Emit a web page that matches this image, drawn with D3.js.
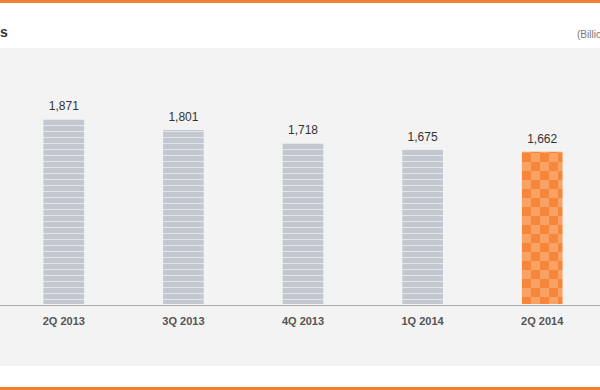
<!DOCTYPE html>
<html>
<head>
<meta charset="utf-8">
<script src="https://cdn.jsdelivr.net/npm/d3@7"></script>
<style>
  body { margin: 0; padding: 0; overflow: hidden; background: #fff; }
  svg { display: block; }
</style>
</head>
<body>
<script>
// data
const quarters = ['2Q 2013', '3Q 2013', '4Q 2013', '1Q 2014', '2Q 2014'];
const values = [1871, 1801, 1718, 1675, 1662];
const highlight = '2Q 2014';

const width = 600;
const height = 390;

const svg = d3.select('body').append('svg')
    .attr('width', width)
    .attr('height', height);

// patterns for the bars
const defs = svg.append('defs');

const stripes = defs.append('pattern')
    .attr('id', 'stripes')
    .attr('patternUnits', 'userSpaceOnUse')
    .attr('width', 6)
    .attr('height', 6);
stripes.append('rect').attr('width', 6).attr('height', 6).attr('fill', '#c3c7cf');
stripes.append('rect').attr('y', 5).attr('width', 6).attr('height', 1).attr('fill', '#e3e5e9');

const checks = defs.append('pattern')
    .attr('id', 'checks')
    .attr('patternUnits', 'userSpaceOnUse')
    .attr('width', 18)
    .attr('height', 18);
checks.append('rect').attr('width', 18).attr('height', 18).attr('fill', '#f6873a');
checks.append('rect').attr('width', 9).attr('height', 9).attr('fill', '#f9a263');
checks.append('rect').attr('x', 9).attr('y', 9).attr('width', 9).attr('height', 9).attr('fill', '#f9a263');

// frame: orange rules, grey panel
svg.append('rect').attr('x', 0).attr('y', 0).attr('width', width).attr('height', 3).attr('fill', '#f07f32');
svg.append('rect').attr('x', 0).attr('y', 48).attr('width', width).attr('height', 318).attr('fill', '#f3f3f3');
svg.append('rect').attr('x', 0).attr('y', 387).attr('width', width).attr('height', 3).attr('fill', '#f07f32');

// header texts (cut off at the window edges, as in the source)
svg.append('text')
    .attr('x', 0)
    .attr('y', 37)
    .attr('font-family', 'Liberation Sans, Arial, sans-serif')
    .attr('font-size', 14)
    .attr('font-weight', 'bold')
    .attr('fill', '#333')
    .text('s');

svg.append('text')
    .attr('x', 577)
    .attr('y', 38)
    .attr('font-family', 'Liberation Sans, Arial, sans-serif')
    .attr('font-size', 10)
    .attr('fill', '#777')
    .text('(Billion Won)');

// scales
const x = d3.scaleBand()
    .domain(quarters)
    .range([4, 602])
    .paddingInner(0.66)
    .paddingOuter(0.33);

const y = d3.scaleLinear()
    .domain([690, 1871])
    .range([304, 119]);

const data = quarters.map((q, i) => ({ q, v: values[i] }));

// bars
svg.append('g')
    .selectAll('rect')
    .data(data)
    .enter()
    .append('rect')
    .attr('x', d => x(d.q))
    .attr('y', d => y(d.v))
    .attr('width', x.bandwidth())
    .attr('height', d => y.range()[0] - y(d.v))
    .attr('fill', d => d.q === highlight ? 'url(#checks)' : 'url(#stripes)');

// value labels
svg.append('g')
    .selectAll('text')
    .data(data)
    .enter()
    .append('text')
    .attr('x', d => x(d.q) + x.bandwidth() / 2)
    .attr('y', d => y(d.v) - 9)
    .attr('text-anchor', 'middle')
    .attr('font-family', 'Liberation Sans, Arial, sans-serif')
    .attr('font-size', 12)
    .attr('fill', '#333')
    .text(d => d3.format(',')(d.v));

// baseline + category axis
const axis = svg.append('g')
    .attr('transform', 'translate(0,305)')
    .call(d3.axisBottom(x).tickSize(0).tickPadding(12));

axis.select('.domain')
    .attr('d', `M0,0.5H${width}`)
    .attr('stroke', '#aaa');

axis.selectAll('text')
    .attr('font-family', 'Liberation Sans, Arial, sans-serif')
    .attr('font-size', 11)
    .attr('font-weight', 'bold')
    .attr('fill', '#555');
</script>
</body>
</html>
